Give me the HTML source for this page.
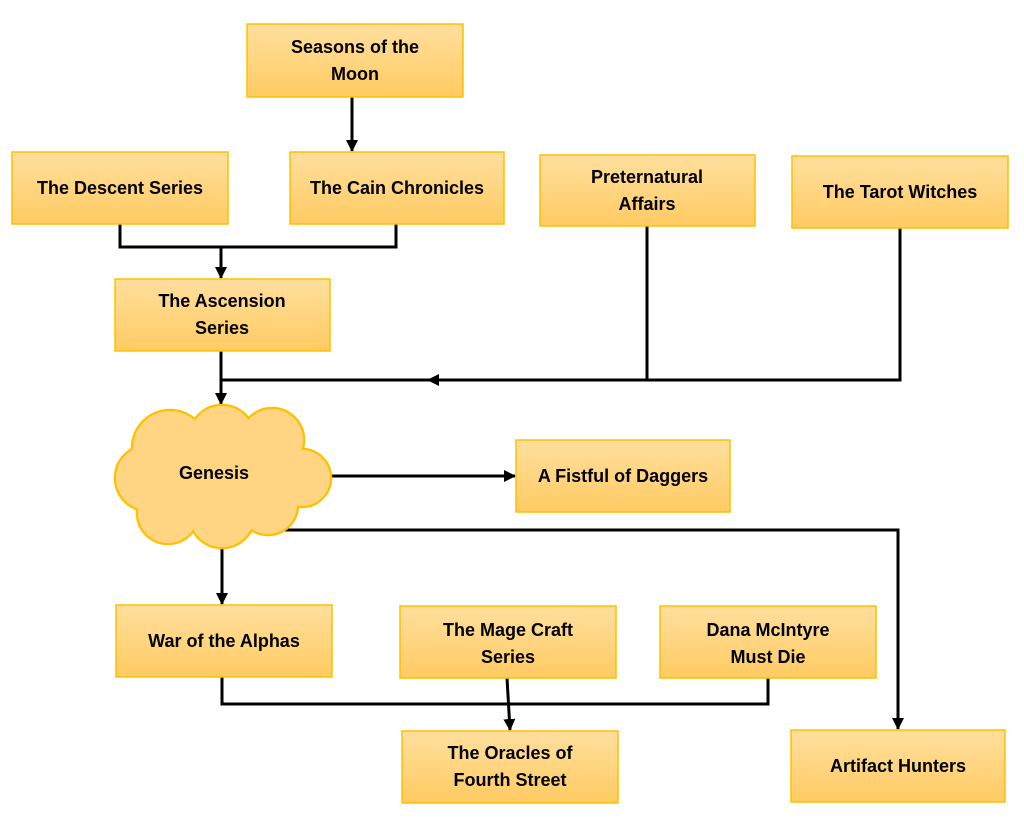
<!DOCTYPE html>
<html><head><meta charset="utf-8"><style>
html,body{margin:0;padding:0;background:#fff;}
svg{display:block;}
text{font-family:"Liberation Sans",sans-serif;font-weight:bold;font-size:18px;fill:#000;}
</style></head><body>
<svg width="1024" height="822" viewBox="0 0 1024 822" xmlns="http://www.w3.org/2000/svg">
<defs>
<linearGradient id="g" x1="0" y1="0" x2="0" y2="1">
<stop offset="0" stop-color="#FFDF9E"/><stop offset="1" stop-color="#FFCB62"/>
</linearGradient>
<marker id="a" markerWidth="12" markerHeight="12" refX="11" refY="6" orient="auto" markerUnits="userSpaceOnUse">
<path d="M0,0 L12,6 L0,12 z" fill="#000"/>
</marker>
</defs>
<g stroke="#000" stroke-width="3" fill="none">
<line x1="352" y1="97" x2="352" y2="151" marker-end="url(#a)"/>
<polyline points="120,224 120,247 396,247 396,224"/>
<line x1="221" y1="247" x2="221" y2="278" marker-end="url(#a)"/>
<line x1="221" y1="351" x2="221" y2="404" marker-end="url(#a)"/>
<polyline points="647,226 647,380 900,380 900,228"/>
<line x1="221" y1="380" x2="647" y2="380"/>
<line x1="520" y1="380" x2="428" y2="380" marker-end="url(#a)"/>
<line x1="330" y1="476" x2="515" y2="476" marker-end="url(#a)"/>
<polyline points="285,530 898,530 898,729" marker-end="url(#a)"/>
<line x1="222" y1="546" x2="222" y2="604" marker-end="url(#a)"/>
<polyline points="222,677 222,704 768,704 768,678"/>
<line x1="507" y1="678" x2="510" y2="730" marker-end="url(#a)"/>
</g>
<g fill="url(#g)" stroke="#FFC000" stroke-width="1.5">
<rect x="247" y="24" width="216" height="73"/>
<rect x="12" y="152" width="216" height="72"/>
<rect x="290" y="152" width="214" height="72"/>
<rect x="540" y="155" width="215" height="71"/>
<rect x="792" y="156" width="216" height="72"/>
<rect x="115" y="279" width="215" height="72"/>
<rect x="516" y="440" width="214" height="72"/>
<rect x="116" y="605" width="216" height="72"/>
<rect x="400" y="606" width="216" height="72"/>
<rect x="660" y="606" width="216" height="72"/>
<rect x="402" y="731" width="216" height="72"/>
<rect x="791" y="730" width="214" height="72"/>
</g>
<g stroke="#FFC000" stroke-width="2.5" fill="#FFCF75">
<circle cx="170" cy="448" r="38"/><circle cx="222" cy="438" r="33"/><circle cx="272" cy="440" r="32"/>
<circle cx="302" cy="478" r="29"/><circle cx="148" cy="478" r="33"/><circle cx="168" cy="513" r="31"/>
<circle cx="222" cy="515" r="33"/><circle cx="268" cy="505" r="30"/>
</g>
<g fill="#FFD584">
<circle cx="170" cy="448" r="37"/><circle cx="222" cy="438" r="32"/><circle cx="272" cy="440" r="31"/>
<circle cx="302" cy="478" r="28"/><circle cx="148" cy="478" r="32"/><circle cx="168" cy="513" r="30"/>
<circle cx="222" cy="515" r="32"/><circle cx="268" cy="505" r="29"/><circle cx="220" cy="476" r="52"/>
<circle cx="272" cy="476" r="30"/><circle cx="250" cy="460" r="35"/>
</g>
<g text-anchor="middle">
<text x="355" y="53">Seasons of the</text><text x="355" y="80">Moon</text>
<text x="120" y="194">The Descent Series</text>
<text x="397" y="194">The Cain Chronicles</text>
<text x="647" y="183">Preternatural</text><text x="647" y="210">Affairs</text>
<text x="900" y="198">The Tarot Witches</text>
<text x="222" y="307">The Ascension</text><text x="222" y="334">Series</text>
<text x="214" y="479">Genesis</text>
<text x="623" y="482">A Fistful of Daggers</text>
<text x="224" y="647">War of the Alphas</text>
<text x="508" y="636">The Mage Craft</text><text x="508" y="663">Series</text>
<text x="768" y="636">Dana McIntyre</text><text x="768" y="663">Must Die</text>
<text x="510" y="759">The Oracles of</text><text x="510" y="786">Fourth Street</text>
<text x="898" y="772">Artifact Hunters</text>
</g>
</svg>
</body></html>
